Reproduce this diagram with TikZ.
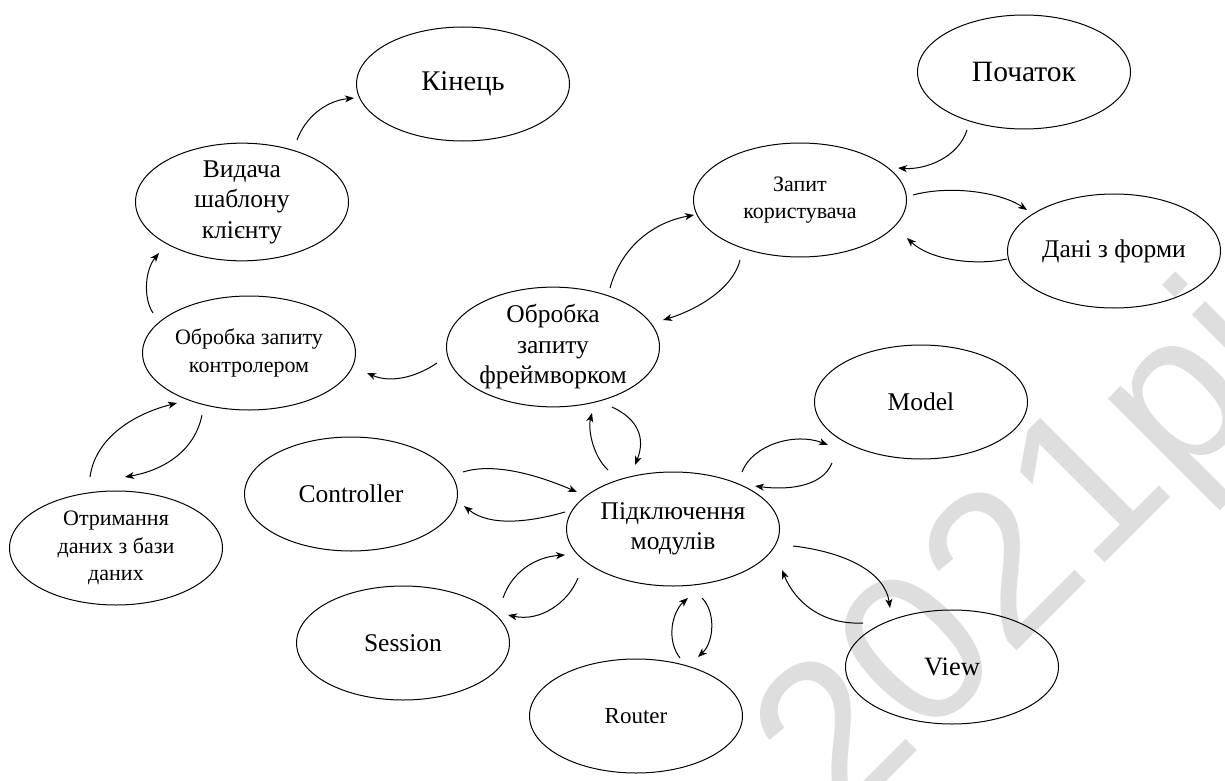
\documentclass[tikz,border=0pt]{standalone}
\usepackage{fontspec}
\setmainfont{Liberation Serif}
\newfontfamily\wmfont{Liberation Sans}
\usetikzlibrary{arrows.meta,calc,shapes.geometric}

\begin{document}
\begin{tikzpicture}[x=1pt,y=-1pt,
  state/.style={ellipse,draw,line width=1pt,minimum width=213pt,minimum height=114pt,
    inner sep=0pt,align=center,font=\fontsize{25.5}{30.5}\selectfont},
  statesm/.style={state,font=\fontsize{22}{27.5}\selectfont},
  arr/.style={line width=1pt,-{Stealth[length=9pt,width=7pt,inset=2.5pt]}}]
\useasboundingbox (0,0) rectangle (1225,781);

% background stamp
\begin{scope}
  \clip (0,0) rectangle (1225,781);
  \node[rotate=45,anchor=base west,text=black!13,inner sep=0pt,
        font=\wmfont\fontsize{215}{215}\selectfont] (stamp) at (840,828) {2021рік};
\end{scope}

% states
\node[state,font=\fontsize{28.5}{33}\selectfont] (kinec) at (463,84) {Кінець};
\node[state,font=\fontsize{29.5}{34}\selectfont] (pochatok) at (1024,72) {Початок};
\node[state]   (vydacha)    at (242,202)  {Видача\\шаблону\\клієнту};
\node[statesm] (zapyt)      at (800,200)  {Запит\\користувача};
\node[state]   (dani)       at (1114,251) {Дані з форми};
\node[state]   (obrf)       at (553,347)  {Обробка\\запиту\\фреймворком};
\node[statesm] (obrk)       at (249,353)  {Обробка запиту\\контролером};
\node[state]   (model)      at (921,402)  {Model};
\node[state]   (controller) at (351,494)  {Controller};
\node[state]   (pidkl)      at (673,529)  {Підключення\\модулів};
\node[statesm] (otr)        at (116,548)  {Отримання\\даних з бази\\даних};
\node[state]   (session)    at (403,643)  {Session};
\node[state,font=\fontsize{26.5}{31}\selectfont] (view) at (952,667) {View};
\node[state,font=\fontsize{23}{27}\selectfont] (router) at (636,716) {Router};

% request flow
\draw[arr] ($(pochatok)+(-57,58)$) .. controls +(-9,28) and +(27,2) .. ($(zapyt)+(98,-32)$);
\draw[arr] ($(zapyt)+(113,-5)$) .. controls +(37,-10) and +(-27,-18) .. ($(dani)+(-87,-41)$);
\draw[arr] ($(dani)+(-107,8)$) .. controls +(-32,7) and +(23,22) .. ($(zapyt)+(107,38)$);
\draw[arr] ($(obrf)+(57,-59)$) .. controls +(12,-43) and +(-39,7) .. ($(zapyt)+(-106,15)$);
\draw[arr] ($(zapyt)+(-60,60)$) .. controls +(-8,32) and +(27,-8) .. ($(obrf)+(110,-27)$);
\draw[arr] ($(obrf)+(-116,16)$) .. controls +(-22,15) and +(23,10) .. ($(obrk)+(118,20)$);
\draw[arr] ($(obrk)+(-96,-40)$) .. controls +(-10,-15) and +(-14,17) .. ($(vydacha)+(-83,51)$);
\draw[arr] ($(vydacha)+(55,-62)$) .. controls +(8,-22) and +(-29,3) .. ($(kinec)+(-109,14)$);
\draw[arr] ($(otr)+(-26,-71)$) .. controls +(5,-37) and +(-47,12) .. ($(obrk)+(-72,50)$);
\draw[arr] ($(obrk)+(-47,62)$) .. controls +(-7,35) and +(40,-7) .. ($(otr)+(9,-71)$);

% module loading
\draw[arr] ($(pidkl)+(-65,-59)$) .. controls +(-16,-15) and +(-4,15) .. ($(obrf)+(39,66)$);
\draw[arr] ($(obrf)+(59,60)$) .. controls +(28,13) and +(10,-25) .. ($(pidkl)+(-38,-64)$);
\draw[arr] ($(controller)+(112,-22)$) .. controls +(32,-10) and +(-37,-16) .. ($(pidkl)+(-96,-37)$);
\draw[arr] ($(pidkl)+(-108,-17)$) .. controls +(-35,10) and +(26,21) .. ($(controller)+(113,12)$);
\draw[arr] ($(session)+(100,-45)$) .. controls +(9,-26) and +(-30,2) .. ($(pidkl)+(-108,26)$);
\draw[arr] ($(pidkl)+(-95,49)$) .. controls +(-10,25) and +(32,7) .. ($(session)+(105,-28)$);
\draw[arr] ($(router)+(44,-58)$) .. controls +(-14,-18) and +(-16,14) .. ($(pidkl)+(15,69)$);
\draw[arr] ($(pidkl)+(29,69)$) .. controls +(14,14) and +(16,-15) .. ($(router)+(62,-59)$);
\draw[arr] ($(pidkl)+(69,-57)$) .. controls +(10,-27) and +(-33,-13) .. ($(model)+(-93,43)$);
\draw[arr] ($(model)+(-89,61)$) .. controls +(-10,25) and +(30,4) .. ($(pidkl)+(82,-43)$);
\draw[arr] ($(pidkl)+(120,17)$) .. controls +(52,6) and +(-5,-36) .. ($(view)+(-62,-59)$);
\draw[arr] ($(view)+(-89,-44)$) .. controls +(-41,2) and +(13,32) .. ($(pidkl)+(109,41)$);
\end{tikzpicture}
\end{document}
